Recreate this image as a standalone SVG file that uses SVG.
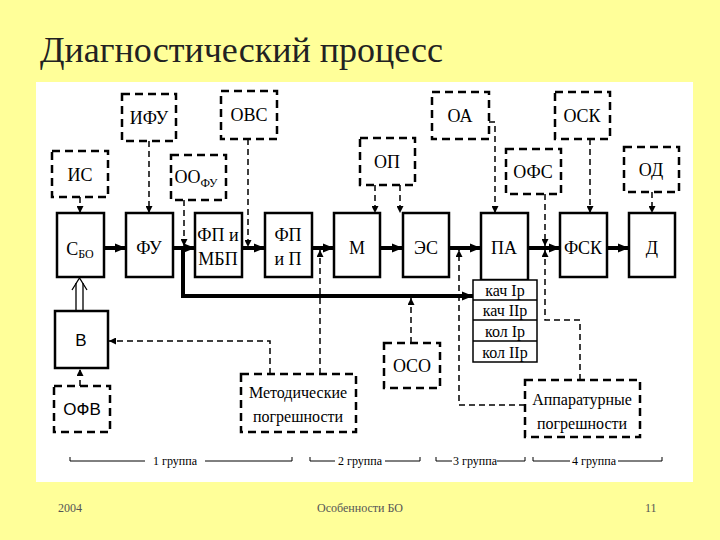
<svg xmlns="http://www.w3.org/2000/svg" width="720" height="540" viewBox="0 0 720 540">
<defs>
<marker id="a" viewBox="0 0 10 10" refX="10" refY="5" markerWidth="7" markerHeight="7" markerUnits="userSpaceOnUse" orient="auto"><path d="M0,0 L10,5 L0,10 z" fill="#000"/></marker>
<marker id="b" viewBox="0 0 10 10" refX="10" refY="5" markerWidth="11" markerHeight="11" markerUnits="userSpaceOnUse" orient="auto"><path d="M0,1 L10,5 L0,9 z" fill="#000"/></marker>
</defs>
<style>
.s{fill:#fff;stroke:#000;stroke-width:2.5}
.d{fill:#fff;stroke:#000;stroke-width:2.5;stroke-dasharray:8,5}
.t{font-family:"Liberation Serif","DejaVu Serif","Noto Serif",serif;font-size:18px;text-anchor:middle}
.ts{font-family:"Liberation Sans",sans-serif;font-size:17px;text-anchor:middle}
.dl{fill:none;stroke:#000;stroke-width:1.5;stroke-dasharray:6,4}
.th{fill:none;stroke:#000;stroke-width:4}
.g{font-family:"Liberation Serif","DejaVu Serif",serif;font-size:12px;text-anchor:middle}
.f{font-family:"Liberation Serif","DejaVu Serif",serif;font-size:12px;fill:#555}
</style>
<rect width="720" height="540" fill="#ffff99"/>
<rect x="36" y="82" width="657" height="400" fill="#fff"/>
<text x="40" y="62" font-family="'Liberation Serif','DejaVu Serif',serif" font-size="36" fill="#222">Диагностический процесс</text>
<g id="connectors">
<path class="th" d="M104,248H126" marker-end="url(#b)"/>
<path class="th" d="M173,248H195" marker-end="url(#b)"/>
<path class="th" d="M242,248H265" marker-end="url(#b)"/>
<path class="th" d="M312,248H334" marker-end="url(#b)"/>
<path class="th" d="M380,248H403" marker-end="url(#b)"/>
<path class="th" d="M449,248H481" marker-end="url(#b)"/>
<path class="th" d="M528,248H560" marker-end="url(#b)"/>
<path class="th" d="M607,248H629" marker-end="url(#b)"/>
<path class="th" d="M183,248V296H473" marker-end="url(#b)"/>
<path d="M76,311V283M83,311V283" stroke="#000" stroke-width="1.3" fill="none"/>
<path d="M72,290L79.5,278L87,290" stroke="#000" stroke-width="1.3" fill="none"/>
<path class="dl" d="M80,197V213" marker-end="url(#a)"/>
<path class="dl" d="M149,141V213" marker-end="url(#a)"/>
<path class="dl" d="M248,139V247" marker-end="url(#a)"/>
<path class="dl" d="M184,200V246" marker-end="url(#a)"/>
<path class="dl" d="M375,185V213" marker-end="url(#a)"/>
<path class="dl" d="M400,185V213" marker-end="url(#a)"/>
<path class="dl" d="M489,122H495V213" marker-end="url(#a)"/>
<path class="dl" d="M545,194V246" marker-end="url(#a)"/>
<path class="dl" d="M590,139V213" marker-end="url(#a)"/>
<path class="dl" d="M652,192V213" marker-end="url(#a)"/>
<path class="dl" d="M80,386V369" marker-end="url(#a)"/>
<path class="dl" d="M270,374V341H109" marker-end="url(#a)"/>
<path class="dl" d="M320,374V250" marker-end="url(#a)"/>
<path class="dl" d="M411,343V298" marker-end="url(#a)"/>
<path class="dl" d="M525,405H459V250" marker-end="url(#a)"/>
<path class="dl" d="M580,380V320H545V250" marker-end="url(#a)"/>
</g>
<g id="n-sbo"><rect class="s" x="57" y="213" width="47" height="64"/><text class="t" x="80" y="255">С<tspan font-size="12" dy="3">БО</tspan></text></g>
<g id="n-fu"><rect class="s" x="126" y="213" width="47" height="64"/><text class="t" x="149" y="254">ФУ</text></g>
<g id="n-fpmbp"><rect class="s" x="195" y="213" width="47" height="64"/><text class="t" x="218" y="241">ФП и</text><text class="t" x="218" y="265">МБП</text></g>
<g id="n-fpp"><rect class="s" x="265" y="213" width="47" height="64"/><text class="t" x="288" y="241">ФП</text><text class="t" x="288" y="265">и П</text></g>
<g id="n-m"><rect class="s" x="334" y="213" width="46" height="64"/><text class="t" x="357" y="254">М</text></g>
<g id="n-es"><rect class="s" x="403" y="213" width="46" height="64"/><text class="t" x="426" y="254">ЭС</text></g>
<g id="n-pa"><rect class="s" x="481" y="213" width="47" height="67"/><text class="t" x="504" y="254">ПА</text></g>
<g id="n-fsk"><rect class="s" x="560" y="213" width="47" height="64"/><text class="t" x="583" y="254">ФСК</text></g>
<g id="n-d"><rect class="s" x="629" y="213" width="46" height="64"/><text class="t" x="652" y="254">Д</text></g>
<g id="n-table" class="t" style="font-size:16px">
<rect x="473" y="280" width="64" height="82" fill="#fff" stroke="#000" stroke-width="1.5"/>
<path d="M473,300H537M473,320H537M473,341H537" stroke="#000" stroke-width="1.5"/>
<text x="505" y="296">кач Iр</text>
<text x="505" y="316">кач IIр</text>
<text x="505" y="337">кол Iр</text>
<text x="505" y="358">кол IIр</text>
</g>
<g id="n-is"><rect class="d" x="52" y="151" width="56" height="46"/><text class="t" x="80" y="181">ИС</text></g>
<g id="n-ifu"><rect class="d" x="122" y="94" width="54" height="47"/><text class="t" x="149" y="124">ИФУ</text></g>
<g id="n-ovs"><rect class="d" x="221" y="91" width="56" height="48"/><text class="t" x="249" y="121">ОВС</text></g>
<g id="n-oofu"><rect class="d" x="171" y="155" width="55" height="45"/><text class="t" x="196" y="183">ОО<tspan font-size="12" dy="4">ФУ</tspan></text></g>
<g id="n-op"><rect class="d" x="360" y="138" width="55" height="47"/><text class="t" x="387" y="168">ОП</text></g>
<g id="n-oa"><rect class="d" x="432" y="92" width="57" height="47"/><text class="t" x="460" y="122">ОА</text></g>
<g id="n-ofs"><rect class="d" x="506" y="149" width="55" height="45"/><text class="t" x="533" y="178">ОФС</text></g>
<g id="n-osk"><rect class="d" x="555" y="92" width="55" height="47"/><text class="t" x="582" y="122">ОСК</text></g>
<g id="n-od"><rect class="d" x="624" y="147" width="55" height="45"/><text class="t" x="651" y="176">ОД</text></g>
<g id="n-v"><rect class="s" x="55" y="311" width="53" height="57"/><text class="ts" x="81" y="346">В</text></g>
<g id="n-ofv"><rect class="d" x="54" y="386" width="56" height="46"/><text class="ts" x="82" y="415">ОФВ</text></g>
<g id="n-met"><rect class="d" x="241" y="374" width="115" height="58"/><text class="t" x="298" y="398" style="font-size:16px">Методические</text><text class="t" x="298" y="422" style="font-size:16px">погрешности</text></g>
<g id="n-oso"><rect class="d" x="384" y="343" width="56" height="45"/><text class="t" x="412" y="372">ОСО</text></g>
<g id="n-app"><rect class="d" x="525" y="380" width="115" height="57"/><text class="t" x="582" y="405" style="font-size:16px">Аппаратурные</text><text class="t" x="582" y="429" style="font-size:16px">погрешности</text></g>
<g id="groups" fill="none" stroke="#000" stroke-width="1">
<path d="M70,457V461H145M205,461H292V457M310,457V461H335M385,461H420V457M436,457V461H452M497,461H525V457M533,457V461H570M618,461H662V457"/>
</g>
<g class="g"><text x="175" y="465">1 группа</text><text x="360" y="465">2 группа</text><text x="475" y="465">3 группа</text><text x="594" y="465">4 группа</text></g>
<text class="f" x="58" y="512">2004</text>
<text class="f" x="360" y="512" text-anchor="middle">Особенности БО</text>
<text class="f" x="645" y="512">11</text>
</svg>
